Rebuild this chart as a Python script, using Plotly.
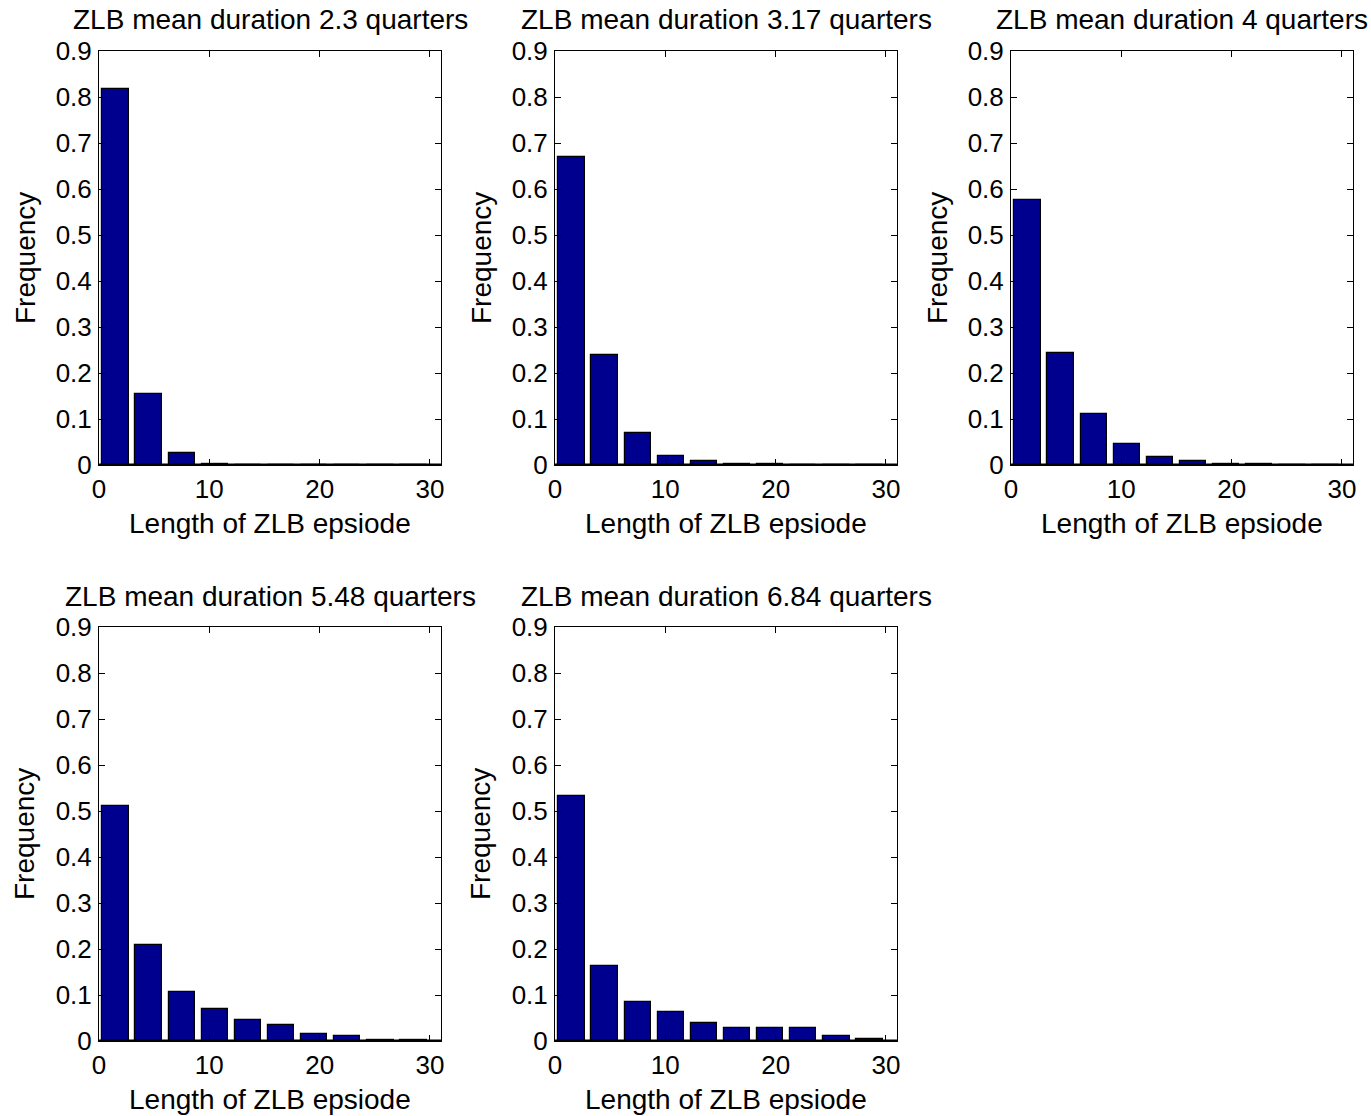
import plotly.graph_objects as go

# Histogram bin centres (quarters) shared by all panels
bin_centers = [1.5, 4.5, 7.5, 10.5, 13.5, 16.5, 19.5, 22.5, 25.5, 28.5]
bar_width = 2.4

mean_durations = ["2.3", "3.17", "4", "5.48", "6.84"]

freq_23 = [0.817, 0.154, 0.026, 0.003, 0.0008, 0.0005, 0.0004, 0.0003, 0.0002, 0.0002]
freq_317 = [0.670, 0.239, 0.070, 0.019, 0.008, 0.003, 0.0015, 0.001, 0.0008, 0.0005]
freq_4 = [0.576, 0.243, 0.110, 0.046, 0.017, 0.009, 0.003, 0.002, 0.001, 0.001]
freq_548 = [0.511, 0.209, 0.107, 0.070, 0.046, 0.034, 0.016, 0.010, 0.002, 0.003]
freq_684 = [0.533, 0.162, 0.085, 0.063, 0.039, 0.029, 0.029, 0.029, 0.0115, 0.004]

series = [freq_23, freq_317, freq_4, freq_548, freq_684]

y_ticks = [0, 0.1, 0.2, 0.3, 0.4, 0.5, 0.6, 0.7, 0.8, 0.9]
y_tick_labels = ["0", "0.1", "0.2", "0.3", "0.4", "0.5", "0.6", "0.7", "0.8", "0.9"]
x_ticks = [0, 10, 20, 30]

W, H = 1371, 1116
col_px = [(99, 441), (555, 897), (1011, 1353)]
row_px = [(51, 465), (627, 1041)]

FONT = "Liberation Sans, Arial, Helvetica, sans-serif"
BAR_COLOR = "#00008F"

fig = go.Figure()
annotations = []
shapes = []

for i, freqs in enumerate(series):
    r, c = divmod(i, 3)
    n = i + 1
    xa = "x" if n == 1 else f"x{n}"
    ya = "y" if n == 1 else f"y{n}"
    x0, x1 = col_px[c]
    y0, y1 = row_px[r]

    fig.add_trace(go.Bar(
        x=bin_centers, y=freqs, width=bar_width,
        marker=dict(color=BAR_COLOR, line=dict(color="black", width=1.2)),
        xaxis=xa, yaxis=ya, showlegend=False,
    ))

    axis_common = dict(
        showline=True, linecolor="black", linewidth=1, mirror="ticks",
        ticks="inside", ticklen=6, tickcolor="black", tickwidth=1,
        showgrid=False, zeroline=False, automargin=False,
        tickfont=dict(family=FONT, size=26, color="black"),
    )
    fig.layout[f"xaxis{'' if n == 1 else n}"] = dict(
        axis_common, domain=[x0 / W, x1 / W], range=[0, 31],
        tickvals=x_ticks, anchor=ya, ticklabelstandoff=1,
    )
    fig.layout[f"yaxis{'' if n == 1 else n}"] = dict(
        axis_common, domain=[1 - y1 / H, 1 - y0 / H], range=[0, 0.9],
        tickvals=y_ticks, ticktext=y_tick_labels, anchor=xa,
        ticklabelstandoff=1,
    )

    # bar baseline
    shapes.append(dict(
        type="line", xref=f"{xa} domain", yref=ya, x0=0, x1=1, y0=0, y1=0,
        line=dict(color="black", width=3), layer="above",
    ))

    annotations.append(dict(
        text=f"ZLB mean duration {mean_durations[i]} quarters",
        xref=f"{xa} domain", yref="paper", x=0.5, y=1 - (y0 - 31) / H,
        xanchor="center", yanchor="middle", showarrow=False,
        font=dict(family=FONT, size=28, color="black"),
    ))
    annotations.append(dict(
        text="Length of ZLB epsiode",
        xref=f"{xa} domain", yref="paper", x=0.5, y=1 - (y1 + 58) / H,
        xanchor="center", yanchor="middle", showarrow=False,
        font=dict(family=FONT, size=28, color="black"),
    ))
    annotations.append(dict(
        text="Frequency", textangle=-90,
        xref="paper", yref=f"{ya} domain", x=(x0 - 74) / W, y=0.5,
        xanchor="center", yanchor="middle", showarrow=False,
        font=dict(family=FONT, size=28, color="black"),
    ))

fig.update_layout(
    width=W, height=H,
    margin=dict(l=0, r=0, t=0, b=0, autoexpand=False),
    paper_bgcolor="white", plot_bgcolor="white",
    bargap=0, annotations=annotations, shapes=shapes,
)

fig.write_html("out.html")
